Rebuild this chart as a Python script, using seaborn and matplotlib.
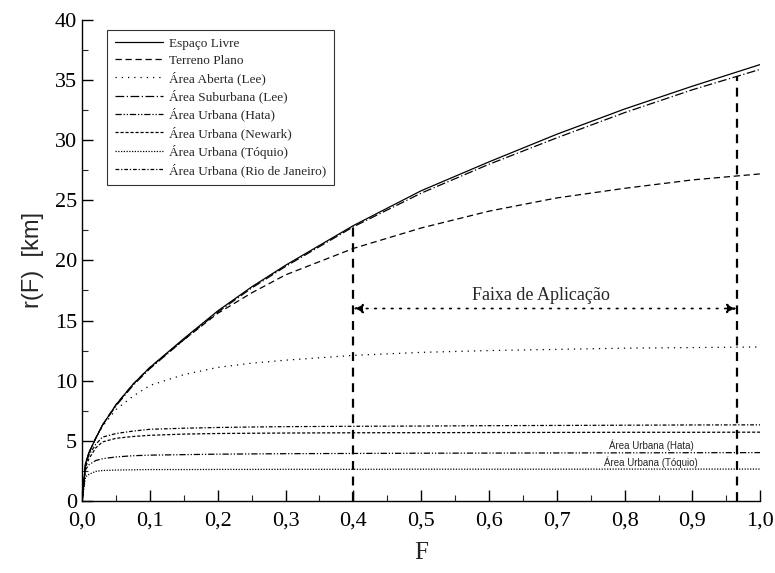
import matplotlib
matplotlib.use("Agg")
import matplotlib.pyplot as plt
import seaborn as sns
import numpy as np
from matplotlib.ticker import MultipleLocator, FuncFormatter

sns.set_style("ticks")
plt.rcParams['font.family'] = ['Liberation Serif', 'DejaVu Serif']

F = [0, 0.005, 0.01, 0.02, 0.03, 0.05, 0.075, 0.1, 0.15, 0.2, 0.25, 0.3,
     0.4, 0.5, 0.6, 0.7, 0.8, 0.9, 1.0]

espaco_livre = [0, 3.1, 4.0, 5.2, 6.3, 8.0, 9.7, 11.1, 13.5, 15.8, 17.8, 19.6,
                22.9, 25.8, 28.2, 30.5, 32.6, 34.5, 36.3]
terreno_plano = [0, 3.1, 4.0, 5.2, 6.3, 8.0, 9.7, 11.1, 13.4, 15.6, 17.3, 18.8,
                 21.0, 22.7, 24.1, 25.2, 26.0, 26.7, 27.2]
area_aberta = [0, 3.1, 4.0, 5.2, 6.2, 7.6, 8.7, 9.6, 10.5, 11.1, 11.45, 11.7,
               12.1, 12.35, 12.5, 12.6, 12.7, 12.75, 12.8]
area_suburbana = [0, 3.1, 4.0, 5.2, 6.3, 7.9, 9.6, 11.0, 13.4, 15.7, 17.7, 19.5,
                  22.8, 25.6, 28.0, 30.2, 32.3, 34.2, 35.9]
urbana_hata = [0, 2.6, 3.0, 3.35, 3.5, 3.65, 3.75, 3.8, 3.84, 3.88, 3.9, 3.92,
               3.94, 3.96, 3.97, 3.98, 3.99, 4.0, 4.01]
urbana_newark = [0, 2.8, 3.5, 4.4, 4.9, 5.2, 5.35, 5.45, 5.55, 5.6, 5.62, 5.64,
                 5.66, 5.67, 5.68, 5.69, 5.7, 5.7, 5.71]
urbana_toquio = [0, 2.0, 2.2, 2.45, 2.52, 2.56, 2.58, 2.6, 2.6, 2.61, 2.61, 2.62,
                 2.62, 2.63, 2.63, 2.63, 2.64, 2.64, 2.64]
urbana_rio = [0, 3.0, 3.8, 4.7, 5.3, 5.6, 5.8, 5.95, 6.04, 6.1, 6.14, 6.17,
              6.2, 6.22, 6.25, 6.27, 6.29, 6.31, 6.32]

labels = ["Espaço Livre", "Terreno Plano", "Área Aberta (Lee)", "Área Suburbana (Lee)",
          "Área Urbana (Hata)", "Área Urbana (Newark)", "Área Urbana (Tóquio)",
          "Área Urbana (Rio de Janeiro)"]
series = [espaco_livre, terreno_plano, area_aberta, area_suburbana,
          urbana_hata, urbana_newark, urbana_toquio, urbana_rio]
styles = ["-", (0, (5, 3)), (0, (1, 4)), (0, (7, 2, 1, 2)),
          (0, (5, 1.5, 1, 1.5, 1, 1.5)), (0, (2.5, 1.5)), (0, (1, 1.2)),
          (0, (3, 1.5, 1, 1.5))]

range_lo, range_hi = 0.4, 0.965
range_arrow_y = 16.0

fig = plt.figure(figsize=(7.75, 5.73), dpi=100)
ax = fig.add_axes([0.106, 0.126, 0.875, 0.839])

for lab, ys, ls in zip(labels, series, styles):
    sns.lineplot(x=F, y=ys, ax=ax, color="black", linewidth=0.9,
                 linestyle=ls, label=lab, sort=True, errorbar=None)

# application range markers
ax.plot([range_lo, range_lo], [0, np.interp(range_lo, F, espaco_livre)],
        color="black", lw=1.6, linestyle=(0, (4, 3)))
ax.plot([range_hi, range_hi], [0, np.interp(range_hi, F, area_suburbana)],
        color="black", lw=1.6, linestyle=(0, (4, 3)))
ax.annotate("", xy=(range_lo, range_arrow_y), xytext=(range_hi, range_arrow_y),
            arrowprops=dict(arrowstyle="<|-|>", color="black", lw=1.2,
                            linestyle=(0, (1, 4)), mutation_scale=14,
                            shrinkA=0, shrinkB=0))
ax.text(0.676, 17.1, "Faixa de Aplicação", ha="center", va="center", fontsize=13)
ax.text(0.839, 4.6, "Área Urbana (Hata)", ha="center", va="center", fontsize=7,
        family=["Liberation Sans", "DejaVu Sans"])
ax.text(0.839, 3.2, "Área Urbana (Tóquio)", ha="center", va="center", fontsize=7,
        family=["Liberation Sans", "DejaVu Sans"])

ax.set_xlim(0, 1.0)
ax.set_ylim(0, 40)
ax.xaxis.set_major_locator(MultipleLocator(0.1))
ax.xaxis.set_minor_locator(MultipleLocator(0.05))
ax.yaxis.set_major_locator(MultipleLocator(5))
ax.yaxis.set_minor_locator(MultipleLocator(2.5))
ax.xaxis.set_major_formatter(FuncFormatter(lambda v, p: f"{v:.1f}".replace(".", ",")))
ax.tick_params(axis="both", which="major", direction="in", length=8, width=1,
               labelsize=16, color="black", labelcolor="black")
ax.tick_params(axis="x", which="major", pad=8)
ax.tick_params(axis="both", which="minor", direction="in", length=4, width=0.8)
for s in ["top", "right"]:
    ax.spines[s].set_visible(False)
for s in ["left", "bottom"]:
    ax.spines[s].set_color("black")
    ax.spines[s].set_linewidth(1.0)

ax.set_xlabel("F", fontsize=18, labelpad=8)
ax.set_ylabel("r(F)  [km]", fontsize=17, family=["Liberation Sans", "DejaVu Sans"],
              labelpad=8)

leg = ax.legend(loc="upper left", bbox_to_anchor=(0.037, 0.98), borderaxespad=0,
                fontsize=9.5, handlelength=3.6, handletextpad=0.5,
                labelspacing=0.35, frameon=True, fancybox=False,
                borderpad=0.6)
leg.get_frame().set_edgecolor("black")
leg.get_frame().set_linewidth(0.8)

fig.savefig("out.png", dpi=100)
